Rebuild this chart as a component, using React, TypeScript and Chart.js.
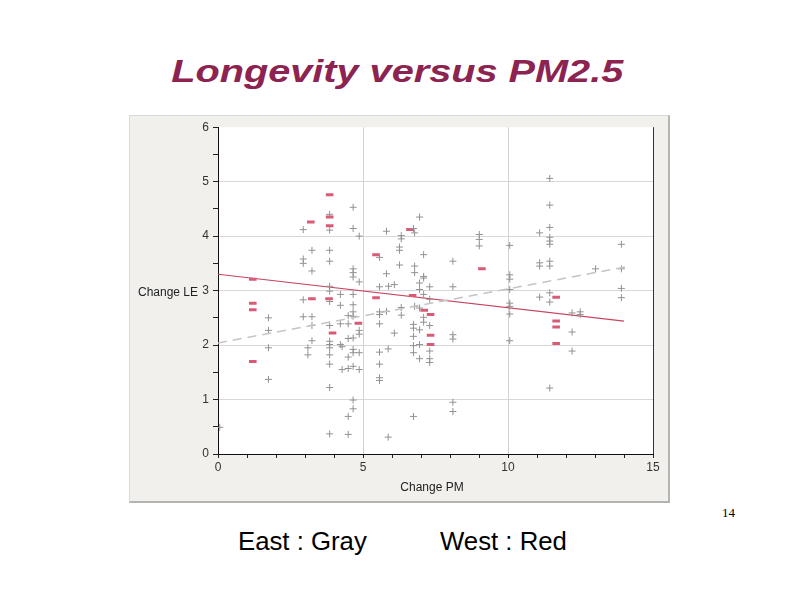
import React, { useEffect, useRef } from "react";
import { Chart, registerables } from "chart.js";

Chart.register(...registerables);

// East (gray plus markers)
const eastX = [
  0.06, 1.74, 1.74, 1.74, 1.74, 2.94, 2.94, 2.94, 2.94, 2.94, 3.1, 3.1, 3.24, 3.24, 3.24, 3.24, 3.24,
  3.85, 3.85, 3.85, 3.85, 3.85, 3.85, 3.85, 3.85, 3.85, 3.85, 3.85, 3.85, 3.85, 3.85, 3.85,
  4.22, 4.22, 4.22, 4.22, 4.28, 4.28, 4.49, 4.49, 4.49, 4.49, 4.49, 4.49, 4.49,
  4.66, 4.66, 4.66, 4.66, 4.66, 4.66, 4.66, 4.66, 4.66, 4.66, 4.66, 4.66, 4.66, 4.66, 4.66,
  4.87, 4.87, 4.87, 4.87, 4.87, 4.87,
  5.57, 5.57, 5.57, 5.57, 5.57, 5.57, 5.57, 5.57, 5.57, 5.81, 5.81, 5.81, 5.87, 5.87, 5.88,
  6.08, 6.08, 6.26, 6.26, 6.26, 6.32, 6.32, 6.32, 6.32,
  6.74, 6.78, 6.78, 6.78, 6.78, 6.74, 6.74, 6.74, 6.74, 6.74, 6.74,
  6.95, 6.95, 6.95, 6.95, 6.95, 6.95, 6.95, 7.09, 7.09, 7.09, 7.09, 7.09, 7.09,
  7.3, 7.3, 7.3, 7.3, 7.3, 7.3, 8.1, 8.1, 8.1, 8.1, 8.1, 8.1, 9.01, 9.01, 9.01,
  10.06, 10.06, 10.06, 10.06, 10.06, 10.06, 10.06, 10.06, 11.09, 11.09, 11.09, 11.09,
  11.44, 11.44, 11.44, 11.44, 11.44, 11.44, 11.44, 11.44, 11.44, 11.44, 11.44,
  12.21, 12.21, 12.21, 12.49, 12.49, 13.02, 13.91, 13.91, 13.91, 13.91,
];
const eastY = [
  0.49, 2.5, 2.27, 1.95, 1.37, 4.12, 3.58, 3.5, 2.83, 2.52, 1.95, 1.82, 3.74, 3.36, 2.52, 2.36, 2.08,
  4.4, 4.11, 3.74, 3.54, 3.08, 2.99, 2.8, 2.36, 2.07, 2.01, 1.95, 1.82, 1.65, 1.22, 0.37,
  2.93, 2.73, 2.39, 2.01, 1.55, 1.97, 2.54, 2.39, 2.12, 1.78, 1.57, 0.69, 0.36,
  4.53, 4.14, 3.4, 3.33, 3.25, 2.93, 2.74, 2.61, 2.53, 2.13, 1.92, 1.86, 1.61, 0.99, 0.83,
  4.0, 3.16, 2.27, 2.2, 1.86, 1.55,
  3.07, 2.61, 2.56, 2.39, 1.87, 1.65, 1.4, 1.35, 3.61, 4.09, 3.31, 2.62, 1.93, 0.31, 3.08,
  3.11, 2.22, 3.8, 3.74, 3.47, 4.01, 3.95, 2.69, 2.55,
  4.14, 4.06, 3.45, 3.33, 2.71, 2.38, 2.31, 2.16, 1.99, 1.86, 0.69,
  4.35, 3.14, 3.02, 2.68, 2.28, 2.01, 1.75, 3.66, 3.26, 3.23, 2.93, 2.51, 2.42,
  3.07, 2.84, 2.36, 1.89, 1.75, 1.68, 3.54, 3.07, 2.19, 2.11, 0.95, 0.78, 4.03, 3.94, 3.82,
  3.83, 3.29, 3.21, 3.02, 2.77, 2.71, 2.57, 2.08, 4.06, 3.51, 3.45, 2.88,
  5.06, 4.57, 4.16, 3.98, 3.91, 3.85, 3.54, 3.45, 2.96, 2.79, 1.21,
  2.59, 2.24, 1.89, 2.61, 2.56, 3.4, 3.85, 3.4, 3.04, 2.87,
];

// West (red dash markers)
const westX = [
  1.2, 1.2, 1.2, 1.2, 3.2, 3.24, 3.85, 3.85, 3.85, 3.83, 3.95, 4.84, 5.45, 5.45, 6.62, 6.71,
  7.11, 7.33, 7.33, 7.33, 9.1, 11.66, 11.66, 11.66, 11.66,
];
const westY = [
  3.21, 2.77, 2.65, 1.7, 4.26, 2.85, 4.76, 4.35, 4.19, 2.85, 2.22, 2.4, 3.66, 2.87, 4.12, 2.91,
  2.64, 2.56, 2.18, 2.01, 3.4, 2.88, 2.44, 2.33, 2.03,
];

// Fitted lines
const westFitX = [0, 14];
const westFitY = [3.3, 2.44];
const eastFitX = [0, 14.2];
const eastFitY = [2.04, 3.45];

const xTickLabels = [0, 5, 10, 15];
const yTickLabels = [0, 1, 2, 3, 4, 5, 6];

const toPts = (xs: number[], ys: number[]) => xs.map((x, i) => ({ x, y: ys[i] }));

export default function App() {
  const ref = useRef<HTMLCanvasElement | null>(null);

  useEffect(() => {
    if (!ref.current) return;
    const panelPlugin = {
      id: "panel",
      beforeDraw(chart: any) {
        const { ctx, chartArea: a, width, height } = chart;
        ctx.save();
        ctx.fillStyle = "#f1f0ec";
        ctx.fillRect(0, 0, width, height);
        ctx.fillStyle = "#ffffff";
        ctx.fillRect(a.left, a.top, a.right - a.left, a.bottom - a.top);
        ctx.restore();
      },
      afterDraw(chart: any) {
        const { ctx, chartArea: a } = chart;
        ctx.save();
        ctx.strokeStyle = "#333";
        ctx.lineWidth = 1;
        ctx.beginPath();
        ctx.moveTo(Math.round(a.right) + 0.5, a.top);
        ctx.lineTo(Math.round(a.right) + 0.5, a.bottom);
        ctx.stroke();
        ctx.restore();
      },
    };

    const chart = new Chart(ref.current, {
      type: "scatter",
      data: {
        datasets: [
          {
            type: "line",
            data: toPts(eastFitX, eastFitY),
            borderColor: "#c4c4c4",
            borderWidth: 1.5,
            borderDash: [9, 6],
            pointRadius: 0,
            fill: false,
          } as any,
          {
            data: toPts(eastX, eastY),
            pointStyle: "cross",
            pointRadius: 3.5,
            borderColor: "#929292",
            backgroundColor: "#929292",
            borderWidth: 1,
          },
          {
            data: toPts(westX, westY),
            pointStyle: "line",
            pointRadius: 3.8,
            borderColor: "#d85a74",
            backgroundColor: "#d85a74",
            borderWidth: 3,
          },
          {
            type: "line",
            data: toPts(westFitX, westFitY),
            borderColor: "#c8455f",
            borderWidth: 1.2,
            pointRadius: 0,
            fill: false,
          } as any,
        ],
      },
      options: {
        animation: false,
        responsive: false,
        maintainAspectRatio: false,
        layout: { padding: { left: 0, right: 15, top: 11, bottom: 0 } },
        plugins: { legend: { display: false }, tooltip: { enabled: false } },
        scales: {
          x: {
            type: "linear",
            min: 0,
            max: 15,
            afterFit: (s: any) => {
              s.height = 47;
            },
            ticks: {
              stepSize: 1,
              autoSkip: false,
              maxRotation: 0,
              color: "#333",
              padding: 2,
              font: { family: "Liberation Sans, Arial, sans-serif", size: 12 },
              callback: (v: any) => (xTickLabels.includes(Number(v)) ? String(v) : ""),
            },
            grid: {
              color: (c: any) =>
                c.tick && (c.tick.value === 5 || c.tick.value === 10) ? "#d2d2d2" : "rgba(0,0,0,0)",
              tickColor: "#222",
              tickLength: 4,
              lineWidth: 1,
            },
            border: { display: true, color: "#111", width: 1 },
          },
          y: {
            type: "linear",
            min: 0,
            max: 6,
            afterFit: (s: any) => {
              s.width = 88;
            },
            ticks: {
              stepSize: 0.5,
              autoSkip: false,
              color: "#333",
              padding: 4,
              font: { family: "Liberation Sans, Arial, sans-serif", size: 12 },
              callback: (v: any) => (yTickLabels.includes(Number(v)) ? String(v) : ""),
            },
            grid: {
              color: (c: any) =>
                c.tick && Number.isInteger(c.tick.value) && c.tick.value > 0 && c.tick.value < 6
                  ? "#d8d8d8"
                  : "rgba(0,0,0,0)",
              tickColor: "#222",
              tickLength: 5,
              lineWidth: 1,
            },
            border: { display: true, color: "#111", width: 1 },
          },
        },
      },
      plugins: [panelPlugin],
    });
    return () => chart.destroy();
  }, []);

  const sans = "'Liberation Sans', Arial, sans-serif";
  return (
    <div
      style={{
        position: "fixed",
        left: 0,
        top: 0,
        width: 794,
        height: 595,
        background: "#ffffff",
        overflow: "hidden",
      }}
    >
      <div
        style={{
          position: "absolute",
          left: 0,
          width: 794,
          top: 49,
          textAlign: "center",
          fontFamily: sans,
          fontWeight: "bold",
          fontStyle: "italic",
          fontSize: 32,
          lineHeight: "44px",
          color: "#8c2350",
          transform: "scaleX(1.24)",
          transformOrigin: "396px 0",
          whiteSpace: "nowrap",
        }}
      >
        Longevity versus PM2.5
      </div>
      <div
        style={{
          position: "absolute",
          left: 129,
          top: 115,
          width: 538,
          height: 385,
          borderTop: "1px solid #d9d9d5",
          borderLeft: "1px solid #d9d9d5",
          borderRight: "2px solid #b4b4b0",
          borderBottom: "2px solid #b4b4b0",
        }}
      >
        <canvas ref={ref} width={538} height={385} style={{ display: "block", width: 538, height: 385 }} />
        <div
          style={{
            position: "absolute",
            left: 8,
            top: 169,
            fontFamily: sans,
            fontSize: 12,
            color: "#222",
            whiteSpace: "nowrap",
          }}
        >
          Change LE
        </div>
        <div
          style={{
            position: "absolute",
            left: 0,
            width: 604,
            top: 364,
            textAlign: "center",
            fontFamily: sans,
            fontSize: 12,
            color: "#222",
            whiteSpace: "nowrap",
          }}
        >
          Change PM
        </div>
      </div>
      <div
        style={{
          position: "absolute",
          left: 722,
          top: 505,
          fontFamily: "'Liberation Serif', 'Times New Roman', serif",
          fontSize: 13,
          color: "#000",
        }}
      >
        14
      </div>
      <div
        style={{
          position: "absolute",
          left: 238,
          top: 527,
          fontFamily: sans,
          fontSize: 25,
          color: "#000",
          whiteSpace: "nowrap",
          transform: "scaleX(1.03)",
          transformOrigin: "0 0",
        }}
      >
        East : Gray
      </div>
      <div
        style={{
          position: "absolute",
          left: 440,
          top: 527,
          fontFamily: sans,
          fontSize: 25,
          color: "#000",
          whiteSpace: "nowrap",
          transform: "scaleX(1.03)",
          transformOrigin: "0 0",
        }}
      >
        West : Red
      </div>
    </div>
  );
}
